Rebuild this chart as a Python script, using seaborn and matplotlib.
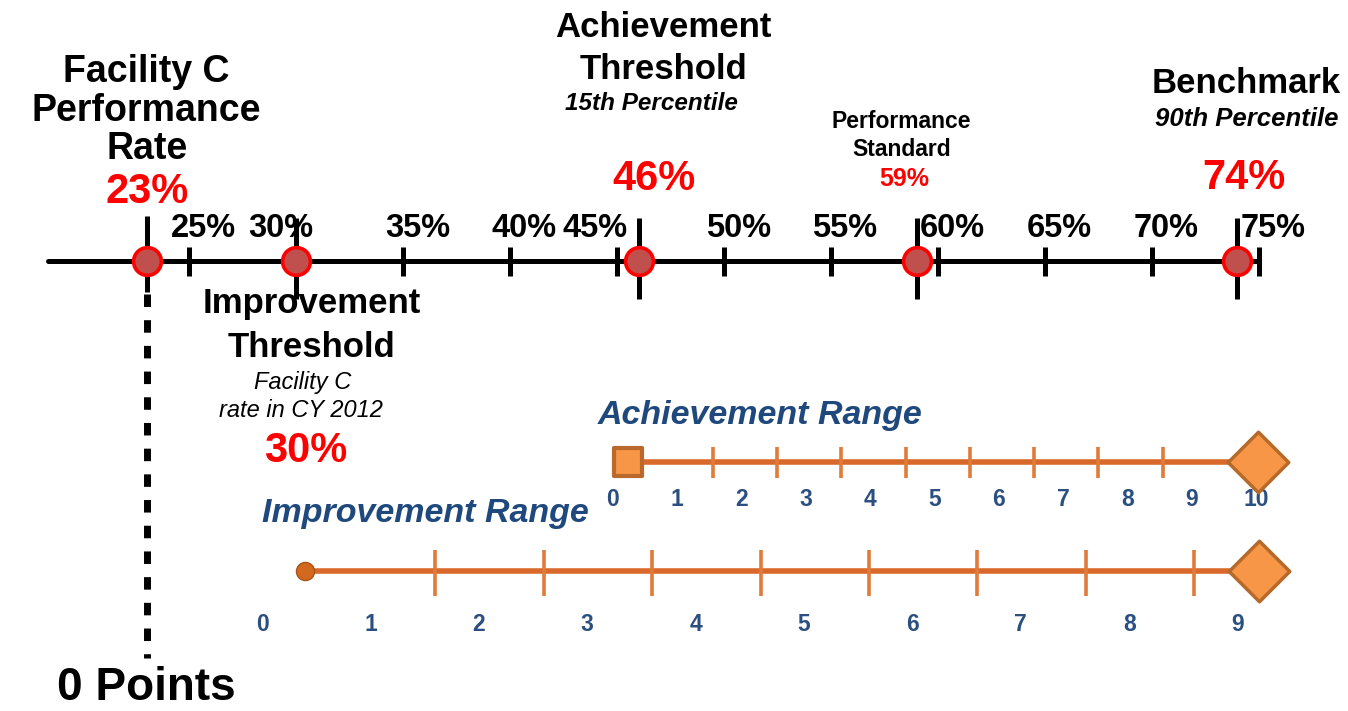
import matplotlib
matplotlib.use("Agg")
import matplotlib.pyplot as plt
import seaborn as sns

# main percentage scale
scale_ticks = [25, 30, 35, 40, 45, 50, 55, 60, 65, 70, 75]
scale_labels = ["25%", "30%", "35%", "40%", "45%", "50%", "55%", "60%", "65%", "70%", "75%"]

# values marked on the scale
facility_rate = 23
improvement_threshold = 30
achievement_threshold = 46
performance_standard = 59
benchmark = 74

# point scales of the two ranges
achievement_points = [0, 1, 2, 3, 4, 5, 6, 7, 8, 9, 10]
improvement_points = [0, 1, 2, 3, 4, 5, 6, 7, 8, 9]

W, H = 1348, 711
sns.set_theme(style="white")
plt.rcParams["font.family"] = ["Liberation Sans", "DejaVu Sans"]
RED = "#ff0000"
BLUE = "#1f497d"
NUM_BLUE = "#2a4f80"

fig = plt.figure(figsize=(W / 100, H / 100), dpi=100)
fig.patch.set_facecolor("white")


def overlay(xmin, xmax):
    a = fig.add_axes([0, 0, 1, 1])
    a.set_xlim(xmin, xmax)
    a.set_ylim(H, 0)
    a.axis("off")
    a.patch.set_alpha(0)
    return a


ax = overlay(16.14, 79.17)      # percent scale
ax_a = overlay(-9.533, 11.431)  # achievement points
ax_i = overlay(-2.417, 10.018)  # improvement points


def put(a, x, y, s, dx=0, size=20, weight="bold", style="normal",
        color="black", ha="center"):
    a.annotate(s, (x, y), xytext=(dx * 0.72, 0), textcoords="offset points",
               ha=ha, va="baseline", fontsize=size, fontweight=weight,
               fontstyle=style, color=color, annotation_clip=False)


# ---- main number line ----
line_y = 261
markers = [facility_rate, improvement_threshold, achievement_threshold,
           performance_standard, benchmark]
sns.lineplot(x=[18.4, scale_ticks[-1]], y=[line_y, line_y], ax=ax,
             color="black", linewidth=3.6)
ax.vlines(scale_ticks, line_y - 14, line_y + 15, color="black", lw=3.6)
ax.vlines(markers[1:], 218, 299, color="black", lw=3.6)
ax.vlines(facility_rate, 216, 292, color="black", lw=3.6)
ax.plot([facility_rate, facility_rate], [294, 658], color="black", lw=5,
        ls=(0, (1.8, 1.9)), dash_capstyle="butt")
sns.scatterplot(x=markers, y=[line_y] * len(markers), ax=ax, s=400,
                color="#c0504d", edgecolor=RED, linewidth=2.6, zorder=5,
                legend=False)

label_shift = {30: -16, 45: -22}
for v, lab in zip(scale_ticks, scale_labels):
    put(ax, v, 237, lab, dx=label_shift.get(v, 14), size=23.5)

# ---- annotations above / below the line ----
put(ax, facility_rate, 82, "Facility C", size=27)
put(ax, facility_rate, 121, "Performance", size=27)
put(ax, facility_rate, 159, "Rate", size=27)
put(ax, facility_rate, 203, f"{facility_rate}%", size=30, color=RED)

put(ax, achievement_threshold, 37, "Achievement", dx=25, size=25)
put(ax, achievement_threshold, 79, "Threshold", dx=25, size=25)
put(ax, achievement_threshold, 110, "15th Percentile", dx=13, size=17.5, style="italic")
put(ax, achievement_threshold, 190, f"{achievement_threshold}%", dx=15, size=30, color=RED)

put(ax, performance_standard, 128, "Performance", dx=-15, size=16.5)
put(ax, performance_standard, 156, "Standard", dx=-15, size=16.5)
put(ax, performance_standard, 186, f"{performance_standard}%", dx=-12, size=18, color=RED)

put(ax, benchmark, 93, "Benchmark", dx=9, size=25)
put(ax, benchmark, 126, "90th Percentile", dx=9, size=18.5, style="italic")
put(ax, benchmark, 189, f"{benchmark}%", dx=6, size=30, color=RED)

put(ax, improvement_threshold, 313, "Improvement", dx=15, size=25)
put(ax, improvement_threshold, 357, "Threshold", dx=15, size=25)
put(ax, improvement_threshold, 389, "Facility C", dx=6, size=17, weight="normal", style="italic")
put(ax, improvement_threshold, 417, "rate in CY 2012", dx=5, size=17, weight="normal", style="italic")
put(ax, improvement_threshold, 462, f"{improvement_threshold}%", dx=9, size=30, color=RED)

put(ax, facility_rate, 700, "0 Points", size=33)

# ---- achievement range ----
ay = 462
a_start = achievement_points[0] + 0.23
a_end = achievement_points[-1] + 0.03
sns.lineplot(x=[a_start, a_end], y=[ay, ay], ax=ax_a, color="#d8692a", linewidth=4)
ax_a.vlines([p + 0.55 for p in achievement_points[1:9]], ay - 15, ay + 16,
            color="#e07b39", lw=2.6)
sns.scatterplot(x=[a_start], y=[ay], ax=ax_a, marker="s", s=430, color="#f79646",
                edgecolor="#b9692c", linewidth=3, zorder=5, legend=False)
ax_a.collections[-1].set_joinstyle("round")
sns.scatterplot(x=[a_end], y=[ay], ax=ax_a, marker="D", s=950, color="#f79646",
                edgecolor="#b56a2a", linewidth=2.5, zorder=5, legend=False)
put(ax_a, achievement_points[0], 424, "Achievement Range", dx=-15, size=24.5,
    style="italic", color=BLUE, ha="left")
for p in achievement_points:
    put(ax_a, p, 506, str(p), size=16.5, color=NUM_BLUE)

# ---- improvement range ----
iy = 571
i_start = improvement_points[0] + 0.4
i_end = improvement_points[-1] + 0.2
sns.lineplot(x=[i_start, i_end], y=[iy, iy], ax=ax_i, color="#d8692a", linewidth=4)
ax_i.vlines([p + 0.6 for p in improvement_points[1:9]], iy - 21, iy + 25,
            color="#e07b39", lw=2.6)
sns.scatterplot(x=[i_start], y=[iy], ax=ax_i, marker="o", s=170, color="#d2691e",
                edgecolor="#a9521a", linewidth=1, zorder=5, legend=False)
sns.scatterplot(x=[i_end], y=[iy], ax=ax_i, marker="D", s=950, color="#f79646",
                edgecolor="#b56a2a", linewidth=2.5, zorder=5, legend=False)
put(ax_i, improvement_points[0], 522, "Improvement Range", size=24.5,
    style="italic", color=BLUE, ha="left")
for p in improvement_points:
    put(ax_i, p, 631, str(p), size=16.5, color=NUM_BLUE)

for a, lim in ((ax, (16.14, 79.17)), (ax_a, (-9.533, 11.431)), (ax_i, (-2.417, 10.018))):
    a.set_xlim(*lim)
    a.set_ylim(H, 0)
    a.axis("off")

fig.savefig("out.png", dpi=100, facecolor="white")
